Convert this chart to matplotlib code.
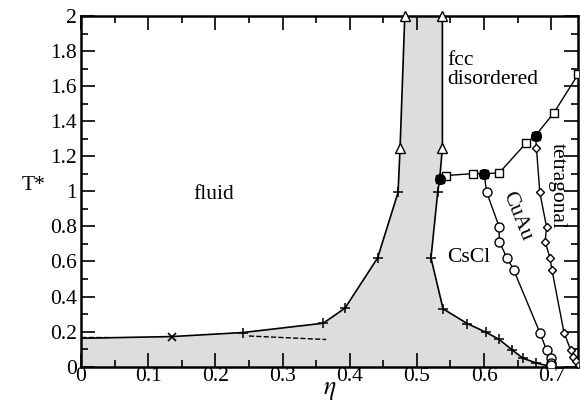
import numpy as np
import matplotlib
matplotlib.use('Agg')
import matplotlib.pyplot as plt
from matplotlib import font_manager
from matplotlib.ticker import MultipleLocator

# fluid side of the coexistence region
left_eta = [0.0, 0.136, 0.2415, 0.3606, 0.393, 0.4415, 0.472, 0.475, 0.482]
left_T = [0.162, 0.172, 0.195, 0.248, 0.334, 0.62, 0.994, 1.25, 2.0]

# solid side of the coexistence region
right_eta = [0.538, 0.538, 0.534, 0.531, 0.521, 0.539, 0.575, 0.603, 0.622, 0.642, 0.658, 0.678, 0.700]
right_T = [2.0, 1.25, 1.072, 0.994, 0.62, 0.33, 0.246, 0.196, 0.157, 0.095, 0.048, 0.021, 0.0]

# fcc disordered / ordered boundary (squares)
sq_eta = [0.534, 0.543, 0.583, 0.600, 0.6225, 0.663, 0.6766, 0.704, 0.740, 0.78]
sq_T = [1.072, 1.09, 1.101, 1.101, 1.105, 1.277, 1.318, 1.448, 1.667, 1.93]

# CsCl / CuAu boundary (circles)
circ_eta = [0.600, 0.604, 0.6225, 0.6225, 0.634, 0.644, 0.683, 0.693, 0.699, 0.700, 0.700]
circ_T = [1.101, 0.994, 0.798, 0.714, 0.621, 0.553, 0.195, 0.095, 0.048, 0.021, 0.008]

# CuAu / tetragonal boundary (diamonds)
dia_eta = [0.6766, 0.678, 0.683, 0.693, 0.691, 0.698, 0.701, 0.719, 0.729, 0.733, 0.737, 0.741]
dia_T = [1.318, 1.248, 0.994, 0.798, 0.714, 0.621, 0.554, 0.195, 0.095, 0.055, 0.030, 0.012]

# triple points (filled circles)
tp_eta = [0.534, 0.600, 0.6766]
tp_T = [1.072, 1.101, 1.318]

# dashed lines
dash_eta = [0.25, 0.365]
dash_T = [0.175, 0.155]
dash2_eta = [0.0, 0.04]
dash2_T = [0.172, 0.172]

# pick a Times-like font if there is one
names = set(f.name for f in font_manager.fontManager.ttflist)
serif = [n for n in ['Liberation Serif', 'Times New Roman', 'Nimbus Roman', 'TeX Gyre Termes',
                     'Noto Serif', 'DejaVu Serif'] if n in names]
plt.rcParams['font.family'] = 'serif'
plt.rcParams['font.serif'] = serif + ['DejaVu Serif']
plt.rcParams['mathtext.fontset'] = 'stix'
fs = 15.5

fig = plt.figure(figsize=(5.8, 4.15), dpi=100)
ax = fig.add_axes([0.1397, 0.1164, 0.857, 0.845])

# grey coexistence region
poly_x = [0.0] + left_eta + right_eta + [0.0]
poly_y = [0.0] + left_T + right_T + [0.0]
ax.fill(poly_x, poly_y, color='#dcdddf', lw=0, zorder=1)

lw = 1.2
ax.plot(left_eta, left_T, color='k', lw=lw, zorder=3)
ax.plot(right_eta, right_T, color='k', lw=lw, zorder=3)

# markers on boundaries
ax.plot(left_eta[1:2], left_T[1:2], 'x', color='k', ms=6, mew=1.2, zorder=4)
ax.plot(left_eta[2:7], left_T[2:7], '+', color='k', ms=7, mew=1.1, zorder=4)
ax.plot(right_eta[3:12], right_T[3:12], '+', color='k', ms=7, mew=1.1, zorder=4)
tri_eta = left_eta[7:] + right_eta[:2]
tri_T = left_T[7:] + right_T[:2]
ax.plot(tri_eta, tri_T, '^', mfc='white', mec='k', ms=6.5, mew=1.0, ls='none', zorder=5, clip_on=False)

ax.plot(sq_eta, sq_T, '-s', color='k', mfc='white', ms=5.5, mew=1.0, lw=1.0, zorder=4)
ax.plot(circ_eta, circ_T, '-o', color='k', mfc='white', ms=6.5, mew=1.0, lw=1.0, zorder=4)
ax.plot(dia_eta, dia_T, '-D', color='k', mfc='white', ms=4.5, mew=1.0, lw=1.0, zorder=4)
ax.plot(tp_eta, tp_T, 'o', color='k', ms=7, zorder=6)

ax.plot(dash_eta, dash_T, '--', color='k', lw=1.0, zorder=3)
ax.plot(dash2_eta, dash2_T, '--', color='k', lw=1.0, zorder=3)

# region labels
ax.text(0.197, 0.98, 'fluid', fontsize=fs, ha='center', va='center')
ax.text(0.545, 1.69, 'fcc\ndisordered', fontsize=fs, ha='left', va='center', linespacing=1.0)
ax.text(0.577, 0.62, 'CsCl', fontsize=fs, ha='center', va='center')
ax.text(0.649, 0.86, 'CuAu', fontsize=fs, ha='center', va='center', rotation=-68)
ax.text(0.709, 1.03, 'tetragonal', fontsize=fs, ha='center', va='center', rotation=-90)

ax.set_xlim(0, 0.74)
ax.set_ylim(0, 2)
ax.xaxis.set_minor_locator(MultipleLocator(0.05))
ax.yaxis.set_minor_locator(MultipleLocator(0.1))
xt = np.round(np.arange(0, 0.71, 0.1), 2)
yt = np.round(np.arange(0, 2.01, 0.2), 2)
ax.set_xticks(xt)
ax.set_xticklabels([f'{v:g}' for v in xt])
ax.set_yticks(yt)
ax.set_yticklabels([f'{v:g}' for v in yt])
ax.tick_params(which='both', direction='in', top=True, right=True, labelsize=fs, width=1.2)
ax.tick_params(which='major', length=10, pad=3)
ax.tick_params(which='minor', length=5)
ax.tick_params(axis='x', pad=0)
for s in ax.spines.values():
    s.set_linewidth(1.8)

ax.set_xlabel(r'$\eta$', fontsize=fs + 3, labelpad=-4)
ax.set_ylabel('T*', fontsize=fs, rotation=0, labelpad=0)
ax.yaxis.set_label_coords(-0.095, 0.49)

fig.savefig('out.png', dpi=100)
